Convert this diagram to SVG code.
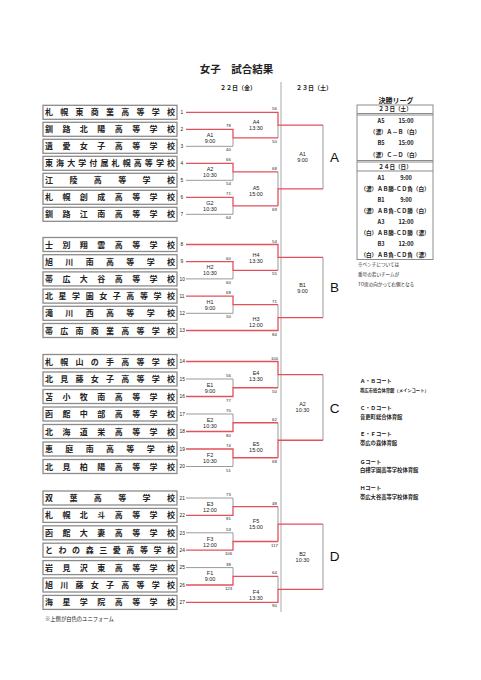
<svg xmlns="http://www.w3.org/2000/svg" width="481" height="680" viewBox="0 0 481 680">
<style>
.bg{fill:#fff}
.box{fill:#fff;stroke:#8c8c8c;stroke-width:1.3}
.sch{font-family:"Noto Sans CJK JP",sans-serif;font-size:8px;font-weight:bold;fill:#222}
.num{font-family:"Liberation Sans",sans-serif;font-size:4.8px;fill:#222}
.sc{font-family:"Liberation Sans",sans-serif;font-size:4.3px;fill:#222;text-anchor:middle}
.ml{font-family:"Liberation Sans",sans-serif;font-size:5.5px;fill:#222;text-anchor:middle}
.big{font-family:"Liberation Sans",sans-serif;font-size:13.5px;fill:#111;text-anchor:middle}
.r{stroke:#e2505c;stroke-width:1.3;fill:none}
.g{stroke:#9a9a9a;stroke-width:1;fill:none}
.jp{font-family:"Noto Sans CJK JP",sans-serif;fill:#222}
.tb{font-family:"Noto Sans CJK JP",sans-serif;font-size:5.6px;fill:#222;text-anchor:middle;font-weight:bold}
.tl{stroke:#8c8c8c;stroke-width:1;fill:none}
</style>
<rect class="bg" x="0" y="0" width="481" height="680"/>

<g id="header">
<text class="jp" x="236.5" y="72.5" font-size="10.5" font-weight="bold" text-anchor="middle">女子　試合結果</text>
<text class="jp" x="238" y="90" font-size="6" font-weight="bold" text-anchor="middle">２２日（金）</text>
<text class="jp" x="314" y="90" font-size="6" font-weight="bold" text-anchor="middle">２３日（土）</text>
<line x1="281" y1="82" x2="281" y2="612" stroke="#a8a8a8" stroke-width="1"/>
</g>

<!-- teams -->
<g id="team1"><rect class="box" x="43" y="105.3" width="134" height="14"/><text class="sch" x="45" y="115.3" textLength="130" lengthAdjust="spacing">札幌東商業高等学校</text><text class="num" x="180.5" y="114">1</text></g>
<g id="team2"><rect class="box" x="43" y="122.3" width="134" height="14"/><text class="sch" x="45" y="132.3" textLength="130" lengthAdjust="spacing">釧路北陽高等学校</text><text class="num" x="180.5" y="131">2</text></g>
<g id="team3"><rect class="box" x="43" y="139.3" width="134" height="14"/><text class="sch" x="45" y="149.3" textLength="130" lengthAdjust="spacing">遺愛女子高等学校</text><text class="num" x="180.5" y="148">3</text></g>
<g id="team4"><rect class="box" x="43" y="156.3" width="134" height="14"/><text class="sch" x="45" y="166.3" textLength="130" lengthAdjust="spacing">東海大学付属札幌高等学校</text><text class="num" x="180.5" y="165">4</text></g>
<g id="team5"><rect class="box" x="43" y="173.3" width="134" height="14"/><text class="sch" x="45" y="183.3" textLength="130" lengthAdjust="spacing">江陵高等学校</text><text class="num" x="180.5" y="182">5</text></g>
<g id="team6"><rect class="box" x="43" y="190.3" width="134" height="14"/><text class="sch" x="45" y="200.3" textLength="130" lengthAdjust="spacing">札幌創成高等学校</text><text class="num" x="180.5" y="199">6</text></g>
<g id="team7"><rect class="box" x="43" y="207.3" width="134" height="14"/><text class="sch" x="45" y="217.3" textLength="130" lengthAdjust="spacing">釧路江南高等学校</text><text class="num" x="180.5" y="216">7</text></g>

<g id="team8"><rect class="box" x="43" y="237.5" width="134" height="14"/><text class="sch" x="45" y="247.5" textLength="130" lengthAdjust="spacing">士別翔雲高等学校</text><text class="num" x="180.5" y="246.2">8</text></g>
<g id="team9"><rect class="box" x="43" y="254.7" width="134" height="14"/><text class="sch" x="45" y="264.7" textLength="130" lengthAdjust="spacing">旭川南高等学校</text><text class="num" x="180.5" y="263.4">9</text></g>
<g id="team10"><rect class="box" x="43" y="271.9" width="134" height="14"/><text class="sch" x="45" y="281.9" textLength="130" lengthAdjust="spacing">帯広大谷高等学校</text><text class="num" x="179.5" y="280.6">10</text></g>
<g id="team11"><rect class="box" x="43" y="289.1" width="134" height="14"/><text class="sch" x="45" y="299.1" textLength="130" lengthAdjust="spacing">北星学園女子高等学校</text><text class="num" x="179.5" y="297.8">11</text></g>
<g id="team12"><rect class="box" x="43" y="306.3" width="134" height="14"/><text class="sch" x="45" y="316.3" textLength="130" lengthAdjust="spacing">滝川西高等学校</text><text class="num" x="179.5" y="315">12</text></g>
<g id="team13"><rect class="box" x="43" y="323.5" width="134" height="14"/><text class="sch" x="45" y="333.5" textLength="130" lengthAdjust="spacing">帯広南商業高等学校</text><text class="num" x="179.5" y="332.2">13</text></g>

<g id="team14"><rect class="box" x="43" y="354.5" width="134" height="14"/><text class="sch" x="45" y="364.5" textLength="130" lengthAdjust="spacing">札幌山の手高等学校</text><text class="num" x="179.5" y="363.2">14</text></g>
<g id="team15"><rect class="box" x="43" y="372" width="134" height="14"/><text class="sch" x="45" y="382" textLength="130" lengthAdjust="spacing">北見藤女子高等学校</text><text class="num" x="179.5" y="380.7">15</text></g>
<g id="team16"><rect class="box" x="43" y="389.5" width="134" height="14"/><text class="sch" x="45" y="399.5" textLength="130" lengthAdjust="spacing">苫小牧南高等学校</text><text class="num" x="179.5" y="398.2">16</text></g>
<g id="team17"><rect class="box" x="43" y="407" width="134" height="14"/><text class="sch" x="45" y="417" textLength="130" lengthAdjust="spacing">函館中部高等学校</text><text class="num" x="179.5" y="415.7">17</text></g>
<g id="team18"><rect class="box" x="43" y="424.5" width="134" height="14"/><text class="sch" x="45" y="434.5" textLength="130" lengthAdjust="spacing">北海道栄高等学校</text><text class="num" x="179.5" y="433.2">18</text></g>
<g id="team19"><rect class="box" x="43" y="442" width="134" height="14"/><text class="sch" x="45" y="452" textLength="130" lengthAdjust="spacing">恵庭南高等学校</text><text class="num" x="179.5" y="450.7">19</text></g>
<g id="team20"><rect class="box" x="43" y="459.5" width="134" height="14"/><text class="sch" x="45" y="469.5" textLength="130" lengthAdjust="spacing">北見柏陽高等学校</text><text class="num" x="179.5" y="468.2">20</text></g>

<g id="team21"><rect class="box" x="43" y="491" width="134" height="14"/><text class="sch" x="45" y="501" textLength="130" lengthAdjust="spacing">双葉高等学校</text><text class="num" x="179.5" y="499.7">21</text></g>
<g id="team22"><rect class="box" x="43" y="508.4" width="134" height="14"/><text class="sch" x="45" y="518.4" textLength="130" lengthAdjust="spacing">札幌北斗高等学校</text><text class="num" x="179.5" y="517.1">22</text></g>
<g id="team23"><rect class="box" x="43" y="525.8" width="134" height="14"/><text class="sch" x="45" y="535.8" textLength="130" lengthAdjust="spacing">函館大妻高等学校</text><text class="num" x="179.5" y="534.5">23</text></g>
<g id="team24"><rect class="box" x="43" y="543.2" width="134" height="14"/><text class="sch" x="45" y="553.2" textLength="130" lengthAdjust="spacing">とわの森三愛高等学校</text><text class="num" x="179.5" y="551.9">24</text></g>
<g id="team25"><rect class="box" x="43" y="560.6" width="134" height="14"/><text class="sch" x="45" y="570.6" textLength="130" lengthAdjust="spacing">岩見沢東高等学校</text><text class="num" x="179.5" y="569.3">25</text></g>
<g id="team26"><rect class="box" x="43" y="578" width="134" height="14"/><text class="sch" x="45" y="588" textLength="130" lengthAdjust="spacing">旭川藤女子高等学校</text><text class="num" x="179.5" y="586.7">26</text></g>
<g id="team27"><rect class="box" x="43" y="595.4" width="134" height="14"/><text class="sch" x="45" y="605.4" textLength="130" lengthAdjust="spacing">海星学院高等学校</text><text class="num" x="179.5" y="604.1">27</text></g>

<g id="connectors">
<!-- gray (losers) -->
<path class="g" d="M186,146.3H233V137.8 M186,180.3H233V171.8 M186,214.3H233V205.8 M278,137.8V125.05 M278,171.8V188.8 M323,125.05V188.8"/>
<path class="g" d="M186,278.9H233V270.3 M186,313.3H233V304.7 M278,270.3V257.4 M278,304.7V317.6 M323,257.4V317.6"/>
<path class="g" d="M186,379H233V387.75 M186,414H233V422.75 M186,466.5H233V457.75 M278,387.75V374.6 M278,422.75V440.25 M323,374.6V440.25"/>
<path class="g" d="M186,498H233V506.7 M186,532.8H233V541.5 M186,567.6H233V576.3 M278,506.7V524.1 M278,576.3V589.35 M323,524.1V589.35"/>
<!-- red (winners) -->
<path class="r" d="M186,112.3H278V125.05H323 M186,129.3H233V137.8H278 M186,163.3H233V171.8H278 M186,197.3H233V205.8H278 M278,205.8V188.8H323"/>
<path class="r" d="M186,244.5H278V257.4H323 M186,261.7H233V270.3H278 M186,296.1H233V304.7H278 M186,330.5H278V317.6H323"/>
<path class="r" d="M186,361.5H278V374.6H323 M186,396.5H233V387.75H278 M186,431.5H233V422.75H278 M186,449H233V457.75H278 M278,457.75V440.25H323"/>
<path class="r" d="M186,515.4H233V506.7H278 M186,550.2H233V541.5H278 M278,541.5V524.1H323 M186,585H233V576.3H278 M186,602.4H278V589.35H323"/>
</g>

<g id="scores">
<text class="sc" x="274.5" y="110.3">56</text><text class="sc" x="274.5" y="142.8">50</text>
<text class="sc" x="228.5" y="127.3">78</text><text class="sc" x="228.5" y="151.3">40</text>
<text class="sc" x="228.5" y="161.3">66</text><text class="sc" x="228.5" y="185.3">54</text>
<text class="sc" x="228.5" y="195.3">71</text><text class="sc" x="228.5" y="219.3">64</text>
<text class="sc" x="274.5" y="169.8">68</text><text class="sc" x="274.5" y="210.8">69</text>

<text class="sc" x="274.5" y="242.5">54</text><text class="sc" x="274.5" y="275.3">55</text>
<text class="sc" x="228.5" y="259.7">60</text><text class="sc" x="228.5" y="283.9">60</text>
<text class="sc" x="228.5" y="294.1">68</text><text class="sc" x="228.5" y="318.3">50</text>
<text class="sc" x="274.5" y="302.7">71</text><text class="sc" x="274.5" y="335.5">84</text>

<text class="sc" x="274.5" y="359.5">100</text><text class="sc" x="274.5" y="392.75">50</text>
<text class="sc" x="228.5" y="377">56</text><text class="sc" x="228.5" y="401.5">77</text>
<text class="sc" x="228.5" y="412">70</text><text class="sc" x="228.5" y="436.5">80</text>
<text class="sc" x="228.5" y="447">74</text><text class="sc" x="228.5" y="471.5">51</text>
<text class="sc" x="274.5" y="420.75">62</text><text class="sc" x="274.5" y="462.75">68</text>

<text class="sc" x="228.5" y="496">73</text><text class="sc" x="228.5" y="520.4">81</text>
<text class="sc" x="228.5" y="530.8">53</text><text class="sc" x="228.5" y="555.2">106</text>
<text class="sc" x="274.5" y="504.7">48</text><text class="sc" x="274.5" y="546.5">117</text>
<text class="sc" x="228.5" y="565.6">38</text><text class="sc" x="228.5" y="590">123</text>
<text class="sc" x="274.5" y="574.3">64</text><text class="sc" x="274.5" y="607.4">90</text>
</g>

<g id="matches">
<text class="ml" x="210" y="136.8">A1</text><text class="ml" x="210" y="142.8">9:00</text>
<text class="ml" x="256" y="124">A4</text><text class="ml" x="256" y="130">13:30</text>
<text class="ml" x="210" y="170.8">A2</text><text class="ml" x="210" y="176.8">10:30</text>
<text class="ml" x="210" y="204.8">G2</text><text class="ml" x="210" y="210.8">10:30</text>
<text class="ml" x="256" y="189.8">A5</text><text class="ml" x="256" y="195.8">15:00</text>
<text class="ml" x="302.5" y="155.9">A1</text><text class="ml" x="302.5" y="161.9">9:00</text>

<text class="ml" x="210" y="269.3">H2</text><text class="ml" x="210" y="275.3">10:30</text>
<text class="ml" x="256" y="257.4">H4</text><text class="ml" x="256" y="263.4">13:30</text>
<text class="ml" x="210" y="303.7">H1</text><text class="ml" x="210" y="309.7">9:00</text>
<text class="ml" x="256" y="321">H3</text><text class="ml" x="256" y="327">12:00</text>
<text class="ml" x="302.5" y="286.5">B1</text><text class="ml" x="302.5" y="292.5">9:00</text>

<text class="ml" x="210" y="386.75">E1</text><text class="ml" x="210" y="392.75">9:00</text>
<text class="ml" x="256" y="374.6">E4</text><text class="ml" x="256" y="380.6">13:30</text>
<text class="ml" x="210" y="421.75">E2</text><text class="ml" x="210" y="427.75">10:30</text>
<text class="ml" x="210" y="456.75">F2</text><text class="ml" x="210" y="462.75">10:30</text>
<text class="ml" x="256" y="445.5">E5</text><text class="ml" x="256" y="451.5">15:00</text>
<text class="ml" x="302.5" y="406.4">A2</text><text class="ml" x="302.5" y="412.4">10:30</text>

<text class="ml" x="210" y="505.7">E3</text><text class="ml" x="210" y="511.7">12:00</text>
<text class="ml" x="210" y="540.5">F3</text><text class="ml" x="210" y="546.5">12:00</text>
<text class="ml" x="256" y="523.1">F5</text><text class="ml" x="256" y="529.1">15:00</text>
<text class="ml" x="210" y="575.3">F1</text><text class="ml" x="210" y="581.3">9:00</text>
<text class="ml" x="256" y="593.5">F4</text><text class="ml" x="256" y="599.5">13:30</text>
<text class="ml" x="302.5" y="555.7">B2</text><text class="ml" x="302.5" y="561.7">10:30</text>
</g>

<g id="blocks">
<text class="big" x="334.5" y="162">A</text>
<text class="big" x="334.5" y="292">B</text>
<text class="big" x="334.5" y="413">C</text>
<text class="big" x="334.5" y="561">D</text>
</g>

<g id="league">
<text class="jp" x="396" y="102.5" font-size="7" font-weight="bold" text-anchor="middle">決勝リーグ</text>
<rect class="tl" x="357" y="105" width="76" height="154.5"/>
<line class="tl" x1="357" y1="113.5" x2="433" y2="113.5"/>
<line class="tl" x1="357" y1="115" x2="433" y2="115"/>
<line class="tl" x1="357" y1="160.5" x2="433" y2="160.5"/>
<line class="tl" x1="357" y1="162" x2="433" y2="162"/>
<line class="tl" x1="357" y1="171" x2="433" y2="171"/>
<text class="tb" x="395" y="111.2">２３日（土）</text>
<text class="tb" x="381" y="122.7">A5</text><text class="tb" x="406" y="122.7">15:00</text>
<text class="tb" x="395" y="134.3">（濃）Ａ－Ｂ（白）</text>
<text class="tb" x="381" y="145.3">B5</text><text class="tb" x="406" y="145.3">15:00</text>
<text class="tb" x="395" y="157">（濃）Ｃ－Ｄ（白）</text>
<text class="tb" x="395" y="168.5">２４日（日）</text>
<text class="tb" x="381" y="180">A1</text><text class="tb" x="406" y="180">9:00</text>
<text class="tb" x="395" y="191.3">（濃）ＡＢ勝-ＣＤ負（白）</text>
<text class="tb" x="381" y="202">B1</text><text class="tb" x="406" y="202">9:00</text>
<text class="tb" x="395" y="213">（濃）ＡＢ負-ＣＤ勝（白）</text>
<text class="tb" x="381" y="224.3">A3</text><text class="tb" x="406" y="224.3">12:00</text>
<text class="tb" x="395" y="235.3">（白）ＡＢ勝-ＣＤ勝（濃）</text>
<text class="tb" x="381" y="246.3">B3</text><text class="tb" x="406" y="246.3">12:00</text>
<text class="tb" x="395" y="257.3">（白）ＡＢ負-ＣＤ負（濃）</text>
<text class="jp" x="358" y="266.3" font-size="4.6">※ベンチについては</text>
<text class="jp" x="358" y="276" font-size="4.6">番号の若いチームが</text>
<text class="jp" x="358" y="285.7" font-size="4.6">TO席の向かって右側となる</text>
</g>

<g id="courts">
<text class="jp" x="360" y="382.7" font-size="5.3" font-weight="bold">Ａ・Ｂコート</text>
<text class="jp" x="360" y="391.5" font-size="4.3" font-weight="bold">帯広市総合体育館（メインコート）</text>
<text class="jp" x="360" y="410.3" font-size="5.3" font-weight="bold">Ｃ・Ｄコート</text>
<text class="jp" x="360" y="418.7" font-size="5.3" font-weight="bold">音更町総合体育館</text>
<text class="jp" x="360" y="436" font-size="5.3" font-weight="bold">Ｅ・Ｆコート</text>
<text class="jp" x="360" y="445.3" font-size="5.3" font-weight="bold">帯広の森体育館</text>
<text class="jp" x="360" y="463.7" font-size="5.3" font-weight="bold">Ｇコート</text>
<text class="jp" x="360" y="472" font-size="5.3" font-weight="bold">白樺学園高等学校体育館</text>
<text class="jp" x="360" y="489.7" font-size="5.3" font-weight="bold">Ｈコート</text>
<text class="jp" x="360" y="498.7" font-size="5.3" font-weight="bold">帯広大谷高等学校体育館</text>
</g>

<g id="footer">
<text class="jp" x="45" y="621" font-size="5.3">※上側が白色のユニフォーム</text>
</g>
</svg>
